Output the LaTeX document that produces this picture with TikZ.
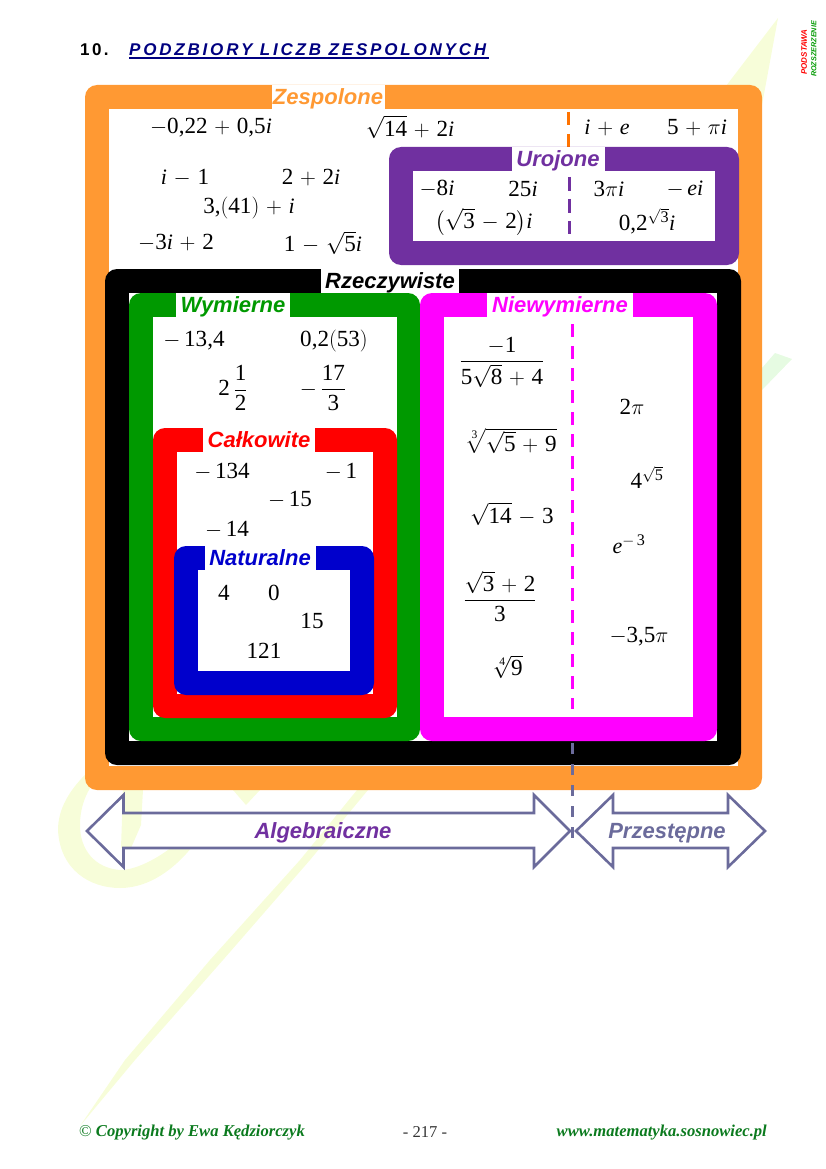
\RequirePackage{fix-cm}
\documentclass[tikz,border=0pt]{standalone}
\usepackage{amsmath}
\usepackage{fontspec}
\setmainfont{Liberation Serif}
\newfontfamily\lsans{Liberation Sans}
\newfontfamily\lserif{Liberation Serif}
\newfontfamily\digfont[NFSSFamily=lsdg,Scale=1.05]{Liberation Serif}
\DeclareSymbolFont{lsdig}{TU}{lsdg}{m}{n}
\medmuskip=5.5mu plus 2mu minus 2mu
\AtBeginDocument{%
\DeclareMathSymbol{0}{\mathalpha}{lsdig}{`0}%
\DeclareMathSymbol{1}{\mathalpha}{lsdig}{`1}%
\DeclareMathSymbol{2}{\mathalpha}{lsdig}{`2}%
\DeclareMathSymbol{3}{\mathalpha}{lsdig}{`3}%
\DeclareMathSymbol{4}{\mathalpha}{lsdig}{`4}%
\DeclareMathSymbol{5}{\mathalpha}{lsdig}{`5}%
\DeclareMathSymbol{6}{\mathalpha}{lsdig}{`6}%
\DeclareMathSymbol{7}{\mathalpha}{lsdig}{`7}%
\DeclareMathSymbol{8}{\mathalpha}{lsdig}{`8}%
\DeclareMathSymbol{9}{\mathalpha}{lsdig}{`9}%
\DeclareMathSymbol{,}{\mathord}{lsdig}{`,}%
}
\newcommand{\imi}{\mathit{i}}
\newcommand{\emi}{\mathit{e}}
\definecolor{czesp}{HTML}{FF9933}
\definecolor{curo}{HTML}{7030A0}
\definecolor{cwym}{HTML}{009900}
\definecolor{cnat}{HTML}{0000CC}
\definecolor{cnie}{HTML}{FF00FF}
\definecolor{carr}{HTML}{6B6B9B}
\definecolor{cnavy}{HTML}{000080}
\definecolor{cfoot}{HTML}{0B7A1E}
\definecolor{wmy}{HTML}{F7FDD9}
\definecolor{wmg}{HTML}{E6FBE2}
\tikzset{
  outerbox/.style={rounded corners=12pt},
  lab/.style={fill=white,inner sep=0pt,text height=19.5pt,text depth=4.5pt,
    font=\lsans\bfseries\itshape\fontsize{22}{24}\selectfont},
  arrlab/.style={inner sep=0pt,anchor=base,
    font=\lsans\bfseries\itshape\fontsize{22}{24}\selectfont},
  mth/.style={inner sep=0pt,text=black,font=\fontsize{22}{26}\selectfont},
  dashline/.style={line width=3pt,dash pattern=on 13pt off 9pt},
  arrowbox/.style={draw=carr,line width=2.6pt,line join=miter},
  wm/.style={draw=none,fill=wmy},
  foot/.style={inner sep=0pt,text=cfoot,font=\lserif\bfseries\itshape\fontsize{16.6}{20}\selectfont},
}
% #1 name, #2 colour, #3-#6 outer box, #7-#9 inner box left, top, right
\newcommand{\bandbox}[9]{%
  \fill[#2,outerbox] (#3,#4) rectangle (#5,#6);
  \fill[white] (#7,#8) rectangle (#9,#6-24);
}
\begin{document}
\begin{tikzpicture}[x=1pt,y=-1pt]
\useasboundingbox (0,0) rectangle (826,1169);
% watermark
\fill[wm] (778,18) -- (700,120) -- (357,790) -- (300,860) -- (210,960) -- (125,1060) -- (80,1126) -- (135,1060) -- (223,960) -- (310,860) -- (368,790) -- (762,105) -- cycle;
\fill[wm,fill=wmg] (775,353) -- (792,359) -- (762,390) -- (762,368) -- cycle;
\fill[wm] (92,768) .. controls (68,790) and (58,810) .. (58,830)
   .. controls (60,870) and (90,888) .. (120,888)
   .. controls (150,888) and (175,868) .. (192,847)
   -- (172,847) .. controls (155,860) and (135,870) .. (120,870)
   .. controls (95,868) and (80,850) .. (80,825)
   .. controls (80,805) and (88,785) .. (105,770) -- cycle;
\fill[wm] (123,790) -- (143,790) -- (141,825) -- (131,848) -- (121,848) -- cycle;
\fill[wm] (233,790) -- (260,790) -- (246,805) -- cycle;
% title
\node[anchor=west,inner sep=0pt,font=\lsans\bfseries\fontsize{17}{20}\selectfont\addfontfeatures{LetterSpace=14}] (num) at (80,50) {10.};
\node[anchor=west,inner sep=0pt,text=cnavy,font=\lsans\bfseries\itshape\fontsize{17}{20}\selectfont\addfontfeatures{LetterSpace=16.5}] (title) at (129,50) {PODZBIORY LICZB ZESPOLONYCH};
\coordinate (ula) at (129,58); \coordinate (ulb) at (489,58);
\draw[cnavy,line width=1.3pt] (ula) -- (ulb);
% side tag
\node[rotate=90,inner sep=0pt,text=red,font=\lsans\bfseries\itshape\fontsize{8}{8}\selectfont] (pod) at (804,52) {PODSTAWA};
\node[rotate=90,inner sep=0pt,text=cwym,font=\lsans\bfseries\itshape\fontsize{7.2}{8}\selectfont] (roz) at (814,49) {ROZSZERZENIE};
% frames
\bandbox{z}{czesp}{85}{85}{762}{790}{109}{109}{738}
\coordinate (za) at (568,112); \coordinate (zb) at (568,147);
\draw[dashline,color=orange!90!red] (za) -- (zb);
\node[lab,text=czesp,minimum width=113pt] (zesp) at (328,97) {Zespolone};
\bandbox{u}{curo}{389}{147}{739}{265}{413}{171}{715}
\fill[white] (413,171) rectangle (715,242);
\fill[curo] (413,241) rectangle (715,243);
\coordinate (ua) at (569,177); \coordinate (ub) at (569,234);
\draw[dashline,color=curo,dash pattern=on 14pt off 8pt] (ua) -- (ub);
\node[lab,text=curo,minimum width=93pt] (uro) at (558,159) {Urojone};
\bandbox{r}{black}{105}{269}{741}{765}{129}{293}{717}
\node[lab,text=black,minimum width=138pt] (rze) at (390,281) {Rzeczywiste};
\bandbox{w}{cwym}{129}{293}{420}{741}{153}{317}{397}
\node[lab,text=cwym,minimum width=114pt] (wym) at (233,305) {Wymierne};
\bandbox{c}{red}{153}{428}{397}{718}{177}{452}{373}
\node[lab,text=red,minimum width=112pt] (cal) at (259,440) {Całkowite};
\bandbox{n}{cnat}{174}{546}{374}{695}{198}{570}{350}
\fill[cnat] (198,671) rectangle (350,673);
\node[lab,text=cnat,minimum width=111pt] (nat) at (260,558) {Naturalne};
\bandbox{m}{cnie}{420}{293}{717}{741}{444}{317}{693}
\node[lab,text=cnie,minimum width=146pt] (nie) at (560,305) {Niewymierne};
\coordinate (ma) at (572,324); \coordinate (mb) at (572,709);
\draw[dashline,color=cnie] (ma) -- (mb);
% numbers: complex
\node[mth] (a1) at (211,128) {$-0{,}22+0{,}5\imi$};
\node[mth] (a2) at (410,127) {$\sqrt{14}+2\imi$};
\node[mth] (a3) at (607,128) {$\imi+\emi$};
\node[mth] (a4) at (697,128) {$5+\pi\imi$};
\node[mth] (a5) at (185,178) {$\imi-1$};
\node[mth] (a6) at (311,178) {$2+2\imi$};
\node[mth] (a7) at (249,208) {$3,(41)+\imi$};
\node[mth] (a8) at (176,243) {$-3\imi+2$};
\node[mth] (a9) at (323,243) {$1-\sqrt{5}\imi$};
% imaginary
\node[mth] (b1) at (437,189) {$-8\imi$};
\node[mth] (b2) at (523,189) {$25\imi$};
\node[mth] (b3) at (609,189) {$3\pi\imi$};
\node[mth] (b4) at (685,189) {$-\,\emi\imi$};
\node[mth] (b5) at (484,222) {$\bigl(\sqrt{3}-2\bigr)\imi$};
\node[mth] (b6) at (647,221) {$0{,}2^{\sqrt{3}}\imi$};
% rational
\node[mth] (c1) at (194,341) {$-\,13{,}4$};
\node[mth] (c2) at (334,341) {$0{,}2(53)$};
\node[mth] (c3) at (233,388) {$2\,\dfrac{1}{2}$};
\node[mth] (c4) at (323,388) {$-\,\dfrac{17}{3}$};
% integer
\node[mth] (d1) at (222,472) {$-\,134$};
\node[mth] (d2) at (341,472) {$-\,1$};
\node[mth] (d3) at (290,500) {$-\,15$};
\node[mth] (d4) at (227,530) {$-\,14$};
% natural
\node[mth] (e1) at (224,593) {$4$};
\node[mth] (e2) at (274,593) {$0$};
\node[mth] (e3) at (312,621) {$15$};
\node[mth] (e4) at (264,651) {$121$};
% irrational
\node[mth] (f1) at (502,362) {$\dfrac{-1}{5\sqrt{8}+4}$};
\node[mth] (f2) at (511,441) {$\sqrt[3]{\sqrt{5}+9}$};
\node[mth] (f3) at (512,514) {$\sqrt{14}-3$};
\node[mth] (f4) at (500,596) {$\dfrac{\sqrt{3}+2}{3}$};
\node[mth] (f5) at (508,667) {$\sqrt[4]{9}$};
\node[mth] (g1) at (632,407) {$2\pi$};
\node[mth] (g2) at (647,477) {$4^{\sqrt{5}}$};
\node[mth] (g3) at (629,544) {$\emi^{-\,3}$};
\node[mth] (g4) at (639,637) {$-3{,}5\pi$};
% arrows
\coordinate (ga) at (572,743); \coordinate (gb) at (572,842);
\draw[carr,line width=3pt,dash pattern=on 11pt off 10pt] (ga) -- (gb);
\draw[arrowbox] (87,831) -- (123.5,795) -- (123.5,813) -- (534,813) -- (534,795) -- (570,831) -- (534,867) -- (534,848) -- (123.5,848) -- (123.5,867) -- cycle;
\draw[arrowbox] (576,831) -- (613,795) -- (613,813) -- (728,813) -- (728,795) -- (765,831) -- (728,867) -- (728,848) -- (613,848) -- (613,867) -- cycle;
\node[arrlab,text=curo] (alg) at (323,838) {Algebraiczne};
\node[arrlab,text=carr] (prz) at (667,838) {Przestępne};
% footer
\node[foot,anchor=west] (cop) at (79,1133) {{\mdseries\upshape ©} Copyright by Ewa Kędziorczyk};
\node[foot,text=black!80,font=\lserif\fontsize{16.6}{20}\selectfont] (pg) at (425,1132) {- 217 -};
\node[foot,anchor=east] (www) at (767,1133) {www.matematyka.sosnowiec.pl};
\end{tikzpicture}
\end{document}
